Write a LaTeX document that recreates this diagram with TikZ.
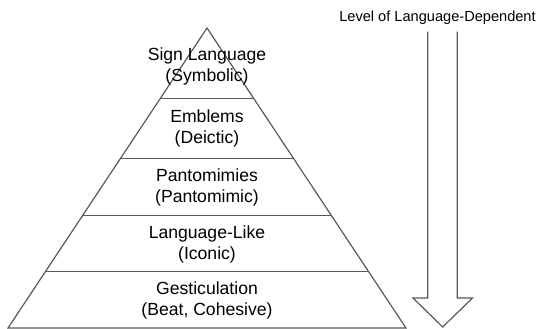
\documentclass[tikz,border=0pt]{standalone}
\usepackage{fontspec}
\setmainfont{Liberation Sans}
\begin{document}
\begin{tikzpicture}[x=1pt,y=-1pt,
  shape line/.style={draw=black!65, line width=1.2pt, line join=miter},
  band text/.style={align=center, font=\fontsize{17.6}{21}\selectfont, inner sep=0pt},
  title text/.style={font=\fontsize{14.6}{17}\selectfont, inner sep=0pt}]
\useasboundingbox (0,0) rectangle (550,329);
% pyramid
\coordinate (apex) at (207,28);
\coordinate (bl) at (8,328);
\coordinate (br) at (406,328);
\draw[shape line] (apex) -- (bl) -- (br) -- cycle;
\foreach \y in {98.7,158.7,215.3,271.7}{
  \pgfmathsetmacro{\hw}{0.66333*(\y-28)}
  \draw[shape line] ({207-\hw},\y) -- ({207+\hw},\y);
}
% texts
\node[band text] (t1) at (207,66) {Sign Language\\(Symbolic)};
\node[band text] (t2) at (207,128.5) {Emblems\\(Deictic)};
\node[band text] (t3) at (207,187.5) {Pantomimies\\(Pantomimic)};
\node[band text] (t4) at (207,244.5) {Language-Like\\(Iconic)};
\node[band text] (t5) at (207,300.5) {Gesticulation\\(Beat, Cohesive)};
% arrow
\node[title text] (title) at (437.5,17.5) {Level of Language-Dependent};
\draw[shape line] (427.7,31.7) -- (427.7,298) -- (413,298) -- (442.7,327)
  -- (472.5,298) -- (457.3,298) -- (457.3,31.7);
\end{tikzpicture}
\end{document}
